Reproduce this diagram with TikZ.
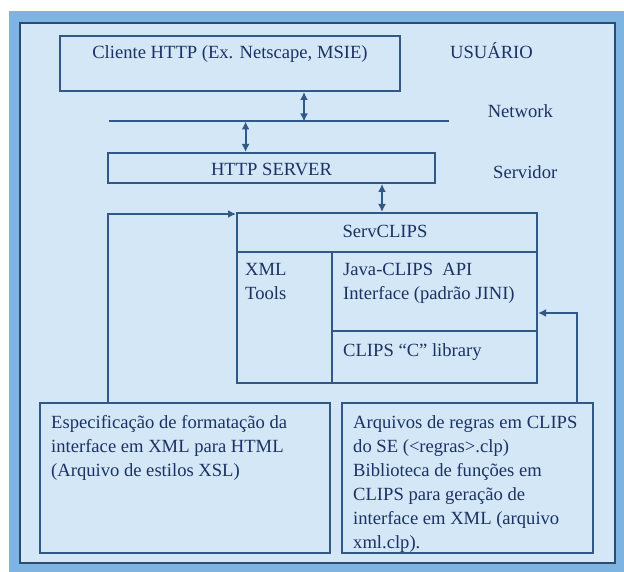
\documentclass[tikz,border=0pt]{standalone}
\usepackage{fontspec}
\setmainfont{Liberation Serif}
\usetikzlibrary{arrows.meta}
\definecolor{bord}{RGB}{125,180,226}
\definecolor{fillc}{RGB}{211,231,246}
\definecolor{linec}{RGB}{50,88,136}
\definecolor{framec}{RGB}{40,75,120}
\definecolor{txt}{RGB}{28,50,100}
\begin{document}
\begin{tikzpicture}[x=1pt,y=-1pt,
  box/.style={draw=linec, line width=2pt, inner sep=0pt},
  lbl/.style={text=txt, font=\fontsize{18.6}{24}\selectfont, inner sep=0pt, anchor=base west},
  clbl/.style={lbl, anchor=base},
  con/.style={draw=linec, line width=2pt},
  dbl/.style={con, {Latex[length=8pt,width=8pt]}-{Latex[length=8pt,width=8pt]}},
  arr/.style={con, -{Latex[length=8pt,width=8pt]}}]
\useasboundingbox (0,0) rectangle (624,572);
\fill[white] (0,0) rectangle (624,572);
\fill[bord] (9,11) rectangle (624,572);
\draw[fill=fillc, draw=framec, line width=2.6pt] (20,23) rectangle (615,563);

% top client
\node[box, minimum width=340pt, minimum height=55pt] (client) at (230,63.5) {};
\node[clbl] (clientt) at (230,59) {Cliente HTTP (Ex. Netscape, MSIE)};
\node[lbl] (usu) at (450,59) {USUÁRIO};

% network
\node[lbl] (net) at (487.6,118) {Network};
\coordinate (netL) at (108.7,121.5);
\coordinate (netR) at (448.5,121.5);
\draw[con] (netL) -- (netR);
\coordinate (a1) at (304,121.5);
\draw[dbl] (a1 |- client.south) -- (a1);

% http server
\node[box, minimum width=327pt, minimum height=30pt] (http) at (271.5,168) {};
\node[clbl] (httpt) at (271.5,176) {HTTP SERVER};
\node[lbl] (serv) at (493,179) {Servidor};
\coordinate (a2) at (245.6,121.5);
\draw[dbl] (a2) -- (a2 |- http.north);

% servclips
\node[box, minimum width=300pt, minimum height=170pt] (servclips) at (387,298) {};
\coordinate (a3) at (382,0);
\draw[dbl] (a3 |- http.south) -- (a3 |- servclips.north);
\node[clbl] (servt) at (385,238) {ServCLIPS};
\coordinate (hd) at (0,252);
\coordinate (vd) at (332,0);
\coordinate (md) at (0,331);
\draw[con] (servclips.west |- hd) -- (servclips.east |- hd);
\draw[con] (vd |- hd) -- (vd |- servclips.south);
\draw[con] (vd |- md) -- (servclips.east |- md);
\node[lbl] (xml) at (245,276) {\begin{tabular}[t]{@{}l@{}}XML\\Tools\end{tabular}};
\node[lbl] (java) at (343,276) {\begin{tabular}[t]{@{}l@{}}Java-CLIPS\ \ API\\Interface (padrão JINI)\end{tabular}};
\node[lbl] (clipsc) at (343,356) {CLIPS “C” library};

% bottom boxes
\node[box, minimum width=290pt, minimum height=150pt] (lbox) at (185,478) {};
\node[box, minimum width=251pt, minimum height=150pt] (rbox) at (467.5,478) {};
\node[lbl] (lboxt) at (51,428) {\begin{tabular}[t]{@{}l@{}}Especificação de formatação da\\interface em XML para HTML\\(Arquivo de estilos XSL)\end{tabular}};
\node[lbl] (rboxt) at (353,428) {\begin{tabular}[t]{@{}l@{}}Arquivos de regras em CLIPS\\do SE (<regras>.clp)\\Biblioteca de funções em\\CLIPS para geração de\\interface em XML (arquivo\\xml.clp).\end{tabular}};

% side connectors
\coordinate (lc) at (108,214);
\draw[arr] (lc |- lbox.north) -- (lc) -- (lc -| servclips.west);
\coordinate (rc) at (577,313);
\draw[arr] (rc |- rbox.north) -- (rc) -- (rc -| servclips.east);
\end{tikzpicture}
\end{document}
